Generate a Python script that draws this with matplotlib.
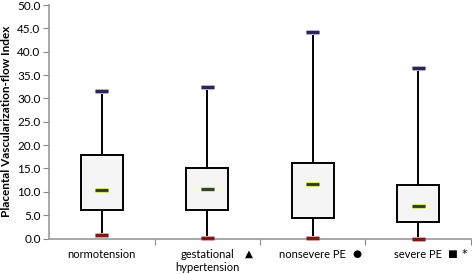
import matplotlib.pyplot as plt
from matplotlib.ticker import FixedLocator, MultipleLocator, FormatStrFormatter

categories = ["normotension", "gestational\nhypertension", "nonsevere PE", "severe PE"]
markers = [[], ["\u25B2"], ["\u25CF"], ["\u25A0", "*"]]
minimum = [0.8, 0.1, 0.1, 0.0]
q1 = [6.1, 6.1, 4.4, 3.5]
median = [10.4, 10.6, 11.7, 7.0]
q3 = [17.9, 15.2, 16.1, 11.4]
maximum = [31.5, 32.4, 44.2, 36.6]

plt.rcParams["font.family"] = ["Lato", "DejaVu Sans"]

fig = plt.figure(figsize=(4.72, 2.74), dpi=100)
ax = fig.add_axes([49 / 472, 35.5 / 274, 422 / 472, 233.5 / 274])

box_w = 0.4
cap_w = 0.06
for i in range(len(categories)):
    c = i + 0.5
    # box
    ax.add_patch(plt.Rectangle((c - box_w / 2, q1[i]), box_w, q3[i] - q1[i],
                               facecolor="#f5f5f5", edgecolor="black", lw=1.4, zorder=2))
    # whiskers
    ax.plot([c, c], [q3[i], maximum[i]], color="black", lw=1.4, zorder=2)
    ax.plot([c, c], [minimum[i], q1[i]], color="black", lw=1.4, zorder=2)
    # caps and median
    ax.plot([c - cap_w, c + cap_w], [maximum[i]] * 2, color="#b9aee0", lw=3.6,
            solid_capstyle="butt", zorder=3)
    ax.plot([c - cap_w, c + cap_w], [maximum[i]] * 2, color="#2e2550", lw=2.2,
            solid_capstyle="butt", zorder=4)
    ax.plot([c - cap_w, c + cap_w], [minimum[i]] * 2, color="#e8a0a0", lw=3.6,
            solid_capstyle="butt", zorder=3, clip_on=False)
    ax.plot([c - cap_w, c + cap_w], [minimum[i]] * 2, color="#7a1a1a", lw=2.2,
            solid_capstyle="butt", zorder=4, clip_on=False)
    ax.plot([c - cap_w, c + cap_w], [median[i]] * 2, color="#c8e070", lw=3.4,
            solid_capstyle="butt", zorder=3)
    ax.plot([c - cap_w, c + cap_w], [median[i]] * 2, color="#2e3a10", lw=2.0,
            solid_capstyle="butt", zorder=4)

ax.set_xlim(0, 4)
ax.set_ylim(0, 50)
ax.yaxis.set_major_locator(MultipleLocator(5))
ax.yaxis.set_major_formatter(FormatStrFormatter("%.1f"))
ax.xaxis.set_major_locator(FixedLocator([1, 2, 3, 4]))
ax.set_xticklabels([])
ax.tick_params(axis="x", length=4, color="#888888")
ax.tick_params(axis="y", length=4, color="#888888", labelsize=8.5, pad=2)
for s in ["top", "right"]:
    ax.spines[s].set_visible(False)
for s in ["left", "bottom"]:
    ax.spines[s].set_color("#999999")
    ax.spines[s].set_linewidth(1.2)

ax.set_ylabel("Placental Vascularization-flow Index", fontsize=8.5, fontweight="bold", labelpad=4)

# category labels with significance markers
offsets = {1: [0.40], 2: [0.42], 3: [0.32, 0.44]}
for i, (lab, mks) in enumerate(zip(categories, markers)):
    c = i + 0.5
    ax.text(c, -2.3, lab, ha="center", va="top", fontsize=8, linespacing=1.25)
    for mk, off in zip(mks, offsets.get(i, [])):
        ax.text(c + off, -2.3, mk, ha="center", va="top", fontsize=8 if mk == "*" else 7.5,
                family=["DejaVu Sans"])

fig.savefig("out.png", dpi=100)
